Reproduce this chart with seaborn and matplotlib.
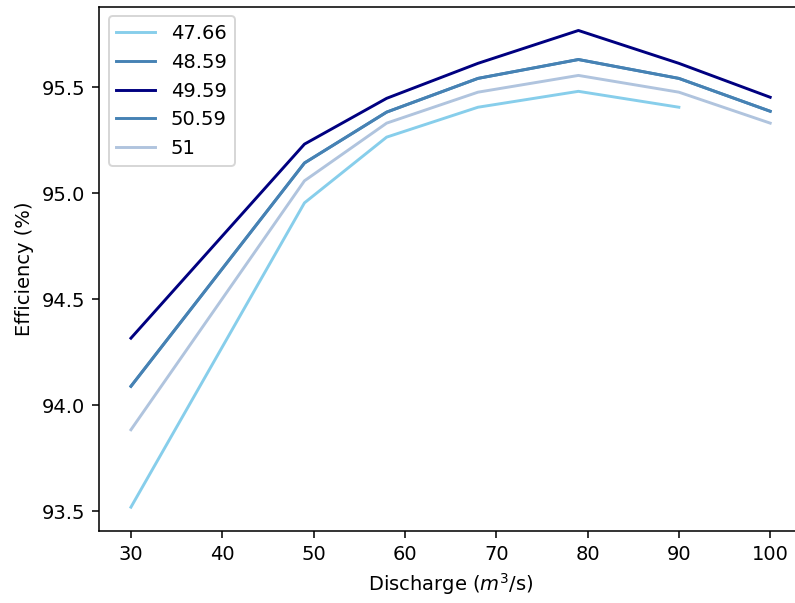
import matplotlib
matplotlib.use("Agg")
import matplotlib.pyplot as plt
import pandas as pd
import seaborn as sns

# ── Data ────────────────────────────────────────────────────────────────────
discharge = [30, 49, 58, 68, 79, 90, 100]
eff_47_66 = [93.52, 94.955, 95.265, 95.406, 95.481, 95.406]
eff_48_59 = [94.09, 95.143, 95.383, 95.542, 95.631, 95.542, 95.387]
eff_49_59 = [94.317, 95.232, 95.448, 95.613, 95.768, 95.613, 95.453]
eff_50_59 = [94.09, 95.143, 95.383, 95.542, 95.631, 95.542, 95.387]
eff_51 = [93.885, 95.059, 95.331, 95.477, 95.556, 95.477, 95.331]

heads = ["47.66", "48.59", "49.59", "50.59", "51"]
series = [eff_47_66, eff_48_59, eff_49_59, eff_50_59, eff_51]
colors = ["skyblue", "steelblue", "navy", "steelblue", "lightsteelblue"]

rows = []
for head, vals in zip(heads, series):
    for q, e in zip(discharge, vals):
        rows.append({"Discharge": q, "Efficiency": e, "Head": head})
df = pd.DataFrame(rows)

# ── Plot (plain matplotlib look: black spines and text) ─────────────────────
DPI = 140
fig, ax = plt.subplots(figsize=(795 / DPI, 603 / DPI), dpi=DPI)
# right edge of the axes sits just outside the canvas, as in the reference crop
fig.subplots_adjust(left=0.1245, right=1.009, top=0.989, bottom=0.1194)

sns.lineplot(data=df, x="Discharge", y="Efficiency", hue="Head",
             hue_order=heads, palette=colors, linewidth=1.5, ax=ax)

ax.set_xlabel("Discharge ($m^3$/s)")
ax.set_ylabel("Efficiency (%)")
ax.set_yticks([93.5, 94.0, 94.5, 95.0, 95.5])
ax.legend(title=None, loc="upper left")

fig.savefig("out.png", dpi=DPI)
